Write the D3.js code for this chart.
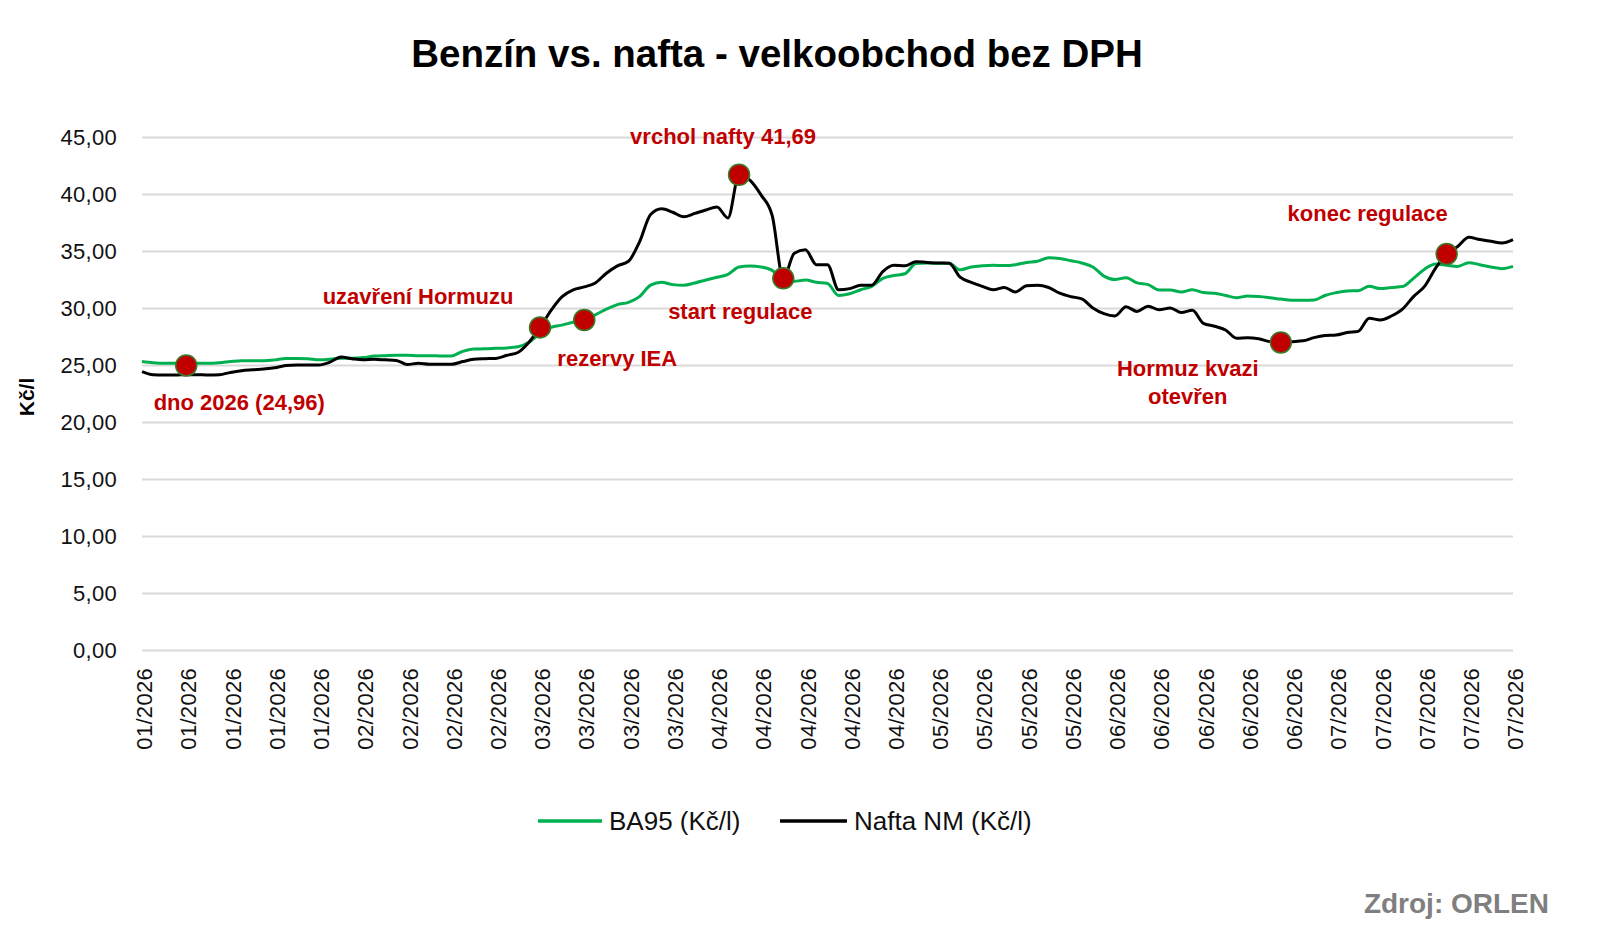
<!DOCTYPE html>
<html>
<head>
<meta charset="utf-8">
<script src="https://cdn.jsdelivr.net/npm/d3@7"></script>
<style>
  html, body { margin: 0; padding: 0; background: #fff; }
  svg { display: block; }
  text { font-family: "Liberation Sans", Arial, sans-serif; }
</style>
</head>
<body>
<svg id="chart" width="1600" height="944"></svg>
<script>
// ---------------- DATA ----------------
const title = "Benzín vs. nafta - velkoobchod bez DPH";
const yTitle = "Kč/l";
const source = "Zdroj: ORLEN";
const seriesNames = ["BA95 (Kč/l)", "Nafta NM (Kč/l)"];

// one x-axis label for every 4th observation
const tickLabels = [
  "01/2026","01/2026","01/2026","01/2026","01/2026",
  "02/2026","02/2026","02/2026","02/2026",
  "03/2026","03/2026","03/2026","03/2026",
  "04/2026","04/2026","04/2026","04/2026","04/2026",
  "05/2026","05/2026","05/2026","05/2026",
  "06/2026","06/2026","06/2026","06/2026","06/2026",
  "07/2026","07/2026","07/2026","07/2026","07/2026"
];
const yTicks = [0, 5, 10, 15, 20, 25, 30, 35, 40, 45];

const ba95 = [
  25.30,25.20,25.15,25.15,25.15,25.15,25.15,25.20,25.30,25.38,
  25.38,25.38,25.45,25.58,25.58,25.55,25.45,25.50,25.60,25.60,
  25.65,25.78,25.82,25.85,25.85,25.82,25.82,25.80,25.80,26.20,
  26.40,26.42,26.46,26.50,26.60,27.00,27.75,28.30,28.50,28.75,
  28.95,29.40,29.90,30.30,30.50,31.00,32.00,32.25,32.05,32.00,
  32.20,32.45,32.70,32.95,33.60,33.68,33.60,33.30,32.45,32.35,
  32.45,32.25,32.15,31.10,31.25,31.60,31.90,32.60,32.85,33.00,
  33.90,33.95,33.92,33.92,33.35,33.60,33.70,33.75,33.72,33.80,
  34.00,34.10,34.40,34.35,34.15,33.95,33.60,32.80,32.50,32.65,
  32.20,32.05,31.58,31.58,31.40,31.60,31.35,31.30,31.10,30.90,
  31.05,31.00,30.90,30.78,30.68,30.68,30.70,31.10,31.35,31.50,
  31.52,31.90,31.70,31.80,31.88,32.60,33.40,33.85,33.75,33.65,
  33.98,33.80,33.60,33.45,33.65
];
const nafta = [
  24.42,24.15,24.12,24.12,24.15,24.15,24.12,24.15,24.35,24.50,
  24.58,24.65,24.75,24.95,25.00,25.00,25.00,25.25,25.70,25.55,
  25.45,25.50,25.45,25.40,25.05,25.15,25.06,25.06,25.06,25.30,
  25.50,25.55,25.58,25.85,26.10,27.00,28.30,29.80,31.00,31.60,
  31.85,32.20,33.05,33.70,34.10,35.80,38.20,38.70,38.40,38.00,
  38.30,38.60,38.85,37.90,41.69,41.20,39.90,38.10,32.60,34.80,
  35.10,33.80,33.80,31.60,31.70,32.00,32.00,33.20,33.75,33.70,
  34.06,34.00,33.95,33.92,32.70,32.25,31.90,31.60,31.80,31.40,
  31.95,32.00,31.80,31.30,31.00,30.80,30.00,29.50,29.30,30.10,
  29.70,30.15,29.85,30.00,29.60,29.80,28.65,28.40,28.07,27.35,
  27.40,27.30,27.05,26.98,27.05,27.12,27.40,27.58,27.63,27.85,
  27.95,29.10,28.95,29.30,29.90,31.00,31.90,33.50,34.74,35.40,
  36.20,36.00,35.85,35.70,36.00
];

// highlighted observations: [observation index, value, label lines]
const eventIndex = [4, 36, 40, 54, 58, 103, 118];
const eventValue = [24.96, 28.30, 28.95, 41.69, 32.60, 26.98, 34.74];
const eventText = [
  ["dno 2026 (24,96)"],
  ["uzavření Hormuzu"],
  ["rezervy IEA"],
  ["vrchol nafty 41,69"],
  ["start regulace"],
  ["Hormuz kvazi", "otevřen"],
  ["konec regulace"]
];

// ---------------- LAYOUT ----------------
const W = 1600, H = 944;
const plot = { left: 142, right: 1513, top: 137, bottom: 650 };
const labelOffset = [ // label centre x / first baseline y relative to marker
  [53, 45], [-122, -23], [33, 46], [-16, -31], [-43, 41], [-93, 34], [-79, -33]
];
const colors = { ba95: "#00b050", nafta: "#000000", grid: "#d9d9d9", red: "#c00000", markerStroke: "#3b7a2a", source: "#7f7f7f" };

const svg = d3.select("#chart");

const idx = d3.range(ba95.length);
const x = d3.scalePoint().domain(idx).range([plot.left, plot.right]);
const y = d3.scaleLinear().domain([0, 45]).range([plot.bottom, plot.top]);
const fmt = v => d3.format(".2f")(v).replace(".", ",");

// title
svg.append("text")
  .attr("x", 777).attr("y", 67)
  .attr("text-anchor", "middle")
  .style("font-size", "38.5px").style("font-weight", "bold")
  .text(title);

// y axis with gridlines
const yAxis = svg.append("g")
  .attr("transform", `translate(${plot.left},0)`)
  .call(d3.axisLeft(y).tickValues(yTicks).tickFormat(fmt)
    .tickSize(-(plot.right - plot.left)).tickPadding(25));
yAxis.select(".domain").remove();
yAxis.selectAll(".tick line").attr("stroke", colors.grid).attr("stroke-width", 2);
yAxis.selectAll(".tick text")
  .style("font-size", "22px").style("letter-spacing", "0.3px").attr("fill", "#111");

// x axis
const xAxis = svg.append("g")
  .attr("transform", `translate(0,${plot.bottom})`)
  .call(d3.axisBottom(x)
    .tickValues(idx.filter(i => i % 4 === 0))
    .tickFormat(i => tickLabels[i / 4])
    .tickSize(0));
xAxis.select(".domain").remove();
xAxis.selectAll(".tick text")
  .attr("transform", "rotate(-90)")
  .attr("x", -18).attr("y", 2).attr("dy", "0.35em")
  .attr("text-anchor", "end")
  .style("font-size", "22px").style("letter-spacing", "0.3px").attr("fill", "#111");

// y title
svg.append("text")
  .attr("transform", "translate(27,397) rotate(-90)")
  .attr("text-anchor", "middle").attr("dy", "0.35em")
  .style("font-size", "21px").style("font-weight", "bold")
  .text(yTitle);

// lines
const line = d3.line().x((d, i) => x(i)).y(d => y(d)).curve(d3.curveMonotoneX);
svg.append("path").datum(ba95)
  .attr("d", line).attr("fill", "none")
  .attr("stroke", colors.ba95).attr("stroke-width", 3).attr("stroke-linejoin", "round");
svg.append("path").datum(nafta)
  .attr("d", line).attr("fill", "none")
  .attr("stroke", colors.nafta).attr("stroke-width", 3).attr("stroke-linejoin", "round");

// event markers and labels
const events = eventIndex.map((ix, k) => ({ ix, v: eventValue[k], lines: eventText[k], off: labelOffset[k] }));
const ev = svg.append("g").selectAll("g").data(events).join("g");
ev.append("circle")
  .attr("cx", d => x(d.ix)).attr("cy", d => y(d.v)).attr("r", 10.5)
  .attr("fill", colors.red).attr("stroke", colors.markerStroke).attr("stroke-width", 1.5);
ev.each(function(d) {
  const t = d3.select(this).append("text")
    .attr("text-anchor", "middle")
    .attr("fill", colors.red)
    .style("font-size", "22px").style("font-weight", "bold");
  d.lines.forEach((s, j) => {
    t.append("tspan")
      .attr("x", x(d.ix) + d.off[0])
      .attr("y", y(d.v) + d.off[1] + j * 28)
      .text(s);
  });
});

// legend
const legend = [
  { name: seriesNames[0], color: colors.ba95, x1: 538, x2: 602 },
  { name: seriesNames[1], color: colors.nafta, x1: 780, x2: 847 }
];
const lg = svg.append("g").selectAll("g").data(legend).join("g");
lg.append("line")
  .attr("x1", d => d.x1).attr("x2", d => d.x2).attr("y1", 821).attr("y2", 821)
  .attr("stroke", d => d.color).attr("stroke-width", 3.5);
lg.append("text")
  .attr("x", d => d.x2 + 7).attr("y", 821).attr("dy", "0.35em")
  .style("font-size", "26px").attr("fill", "#111")
  .text(d => d.name);

// source
svg.append("text")
  .attr("x", 1549).attr("y", 913)
  .attr("text-anchor", "end")
  .attr("fill", colors.source)
  .style("font-size", "28px").style("font-weight", "bold")
  .text(source);
</script>
</body>
</html>
